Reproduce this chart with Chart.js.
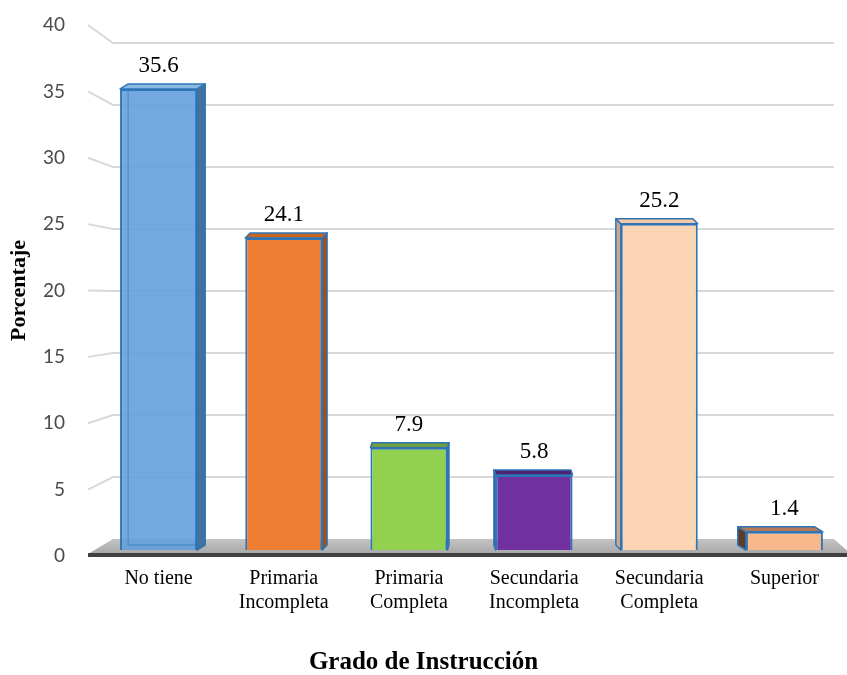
<!DOCTYPE html>
<html>
<head>
<meta charset="utf-8">
<script src="https://cdn.jsdelivr.net/npm/chart.js"></script>
<style>
  html, body { margin: 0; padding: 0; background: #fff; }
</style>
</head>
<body>
<canvas id="chart" width="847" height="675"></canvas>
<script>
const categories = [
    ["No tiene"],
    ["Primaria", "Incompleta"],
    ["Primaria", "Completa"],
    ["Secundaria", "Incompleta"],
    ["Secundaria", "Completa"],
    ["Superior"]
];
const values = [35.6, 24.1, 7.9, 5.8, 25.2, 1.4];
const frontColors = ["rgba(100,160,218,0.9)", "#ed7d31", "#92d050", "#7030a0", "#fcd5b5", "#f8b88b"];
const sideColors = ["#41719c", "#9e4f1c", "#6a9a3a", "#4a1f6b", "#c9a88d", "#5e3b26"];
const topColors = ["#8ab8e3", "#c8641f", "#6f9e3f", "#4f2272", "#f3c9a6", "#b47a58"];

const serif = '"Liberation Serif", "Times New Roman", serif';

// Back wall grid lines + grey floor
const wallPlugin = {
    id: "wall",
    beforeDatasetsDraw(chart) {
        const ctx = chart.ctx, ca = chart.chartArea;
        const y = chart.scales.y, yw = chart.scales.yw;
        const xL = ca.left - 8, xB = ca.left + 17, xR = ca.right - 13;
        ctx.save();
        ctx.strokeStyle = "#d9d9d9";
        ctx.lineWidth = 2;
        y.ticks.forEach(t => {
            if (t.value === 0) return;
            const fy = y.getPixelForValue(t.value), by = yw.getPixelForValue(t.value);
            ctx.beginPath();
            ctx.moveTo(xL, fy);
            ctx.lineTo(xB, by);
            ctx.lineTo(xR, by);
            ctx.stroke();
        });
        const f0 = y.getPixelForValue(0), b0 = yw.getPixelForValue(0);
        const g = ctx.createLinearGradient(0, b0, 0, f0);
        g.addColorStop(0, "#c4c4c4");
        g.addColorStop(1, "#a3a3a3");
        ctx.fillStyle = g;
        ctx.beginPath();
        ctx.moveTo(xL, f0 - 2);
        ctx.lineTo(xB, b0);
        ctx.lineTo(xR, b0);
        ctx.lineTo(ca.right + 4, f0 - 2);
        ctx.closePath();
        ctx.fill();
        ctx.fillStyle = "#404040";
        ctx.fillRect(xL, f0 - 3, ca.right - xL, 4);
        ctx.restore();
    }
};

// Side and top faces of the bars, plus value labels
const depthPlugin = {
    id: "depth",
    afterDatasetsDraw(chart) {
        const ctx = chart.ctx;
        const meta = chart.getDatasetMeta(0);
        ctx.save();
        meta.data.forEach((bar, i) => {
            const { x, y, base, width } = bar.getProps(["x", "y", "base", "width"], true);
            const l = x - width / 2, r = x + width / 2;
            const dx = (470 - x) * 0.026, dy = 5;
            ctx.lineJoin = "round";
            // back edges seen through the translucent first bar
            if (i === 0) {
                ctx.strokeStyle = "rgba(46,117,182,0.45)";
                ctx.lineWidth = 1.5;
                ctx.beginPath();
                ctx.moveTo(l + dx, y - dy);
                ctx.lineTo(l + dx, base - dy);
                ctx.lineTo(r + dx, base - dy);
                ctx.stroke();
            }
            ctx.lineWidth = 1.5;
            ctx.strokeStyle = "#2e75b6";
            const sx = dx > 0 ? r : l;
            ctx.fillStyle = sideColors[i];
            ctx.beginPath();
            ctx.moveTo(sx, y);
            ctx.lineTo(sx + dx, y - dy);
            ctx.lineTo(sx + dx, base - dy);
            ctx.lineTo(sx, base);
            ctx.closePath();
            ctx.fill();
            ctx.stroke();
            ctx.fillStyle = topColors[i];
            ctx.beginPath();
            ctx.moveTo(l, y);
            ctx.lineTo(l + dx, y - dy);
            ctx.lineTo(r + dx, y - dy);
            ctx.lineTo(r, y);
            ctx.closePath();
            ctx.fill();
            ctx.stroke();
            ctx.fillStyle = "#000";
            ctx.font = "23px " + serif;
            ctx.textAlign = "center";
            ctx.textBaseline = "alphabetic";
            ctx.fillText(values[i].toFixed(1), x, y - 17);
        });
        ctx.restore();
    }
};

new Chart(document.getElementById("chart"), {
    type: "bar",
    data: {
        labels: categories,
        datasets: [{
            data: values,
            yAxisID: "yb",
            backgroundColor: frontColors,
            borderColor: "#2e75b6",
            borderWidth: 2,
            barPercentage: 0.615,
            categoryPercentage: 1
        }]
    },
    options: {
        responsive: false,
        animation: false,
        layout: { padding: { top: 25, right: 0, left: 0, bottom: 0 } },
        plugins: {
            legend: { display: false },
            tooltip: { enabled: false },
            title: {
                display: true,
                text: "Grado de Instrucción",
                position: "bottom",
                color: "#000",
                font: { family: serif, size: 25, weight: "bold", lineHeight: 1 },
                padding: 0
            }
        },
        scales: {
            x: {
                grid: { display: false, drawTicks: false },
                border: { display: false },
                ticks: {
                    color: "#000",
                    padding: 11,
                    maxRotation: 0,
                    autoSkip: false,
                    font: { family: serif, size: 20, lineHeight: 1.2 }
                },
                afterFit(s) { s.height = 94; }
            },
            y: {
                position: "left",
                min: 0,
                max: 40,
                grid: { display: false, drawTicks: false },
                border: { display: false },
                ticks: {
                    stepSize: 5,
                    color: "#4a4a4a",
                    padding: 31,
                    font: { family: "Lato", size: 19 }
                },
                title: {
                    display: true,
                    text: "Porcentaje",
                    color: "#000",
                    font: { family: serif, size: 22, weight: "bold", lineHeight: 1 },
                    padding: { top: 8, bottom: 0 }
                },
                afterFit(s) {
                    s.width = 96;
                    s.paddingTop = 12;
                    s.paddingBottom = 12;
                }
            },
            yb: { display: false, min: -0.463, max: 40.54 },
            yw: { display: false, min: -1.371, max: 41.45 }
        }
    },
    plugins: [wallPlugin, depthPlugin]
});
</script>
</body>
</html>
